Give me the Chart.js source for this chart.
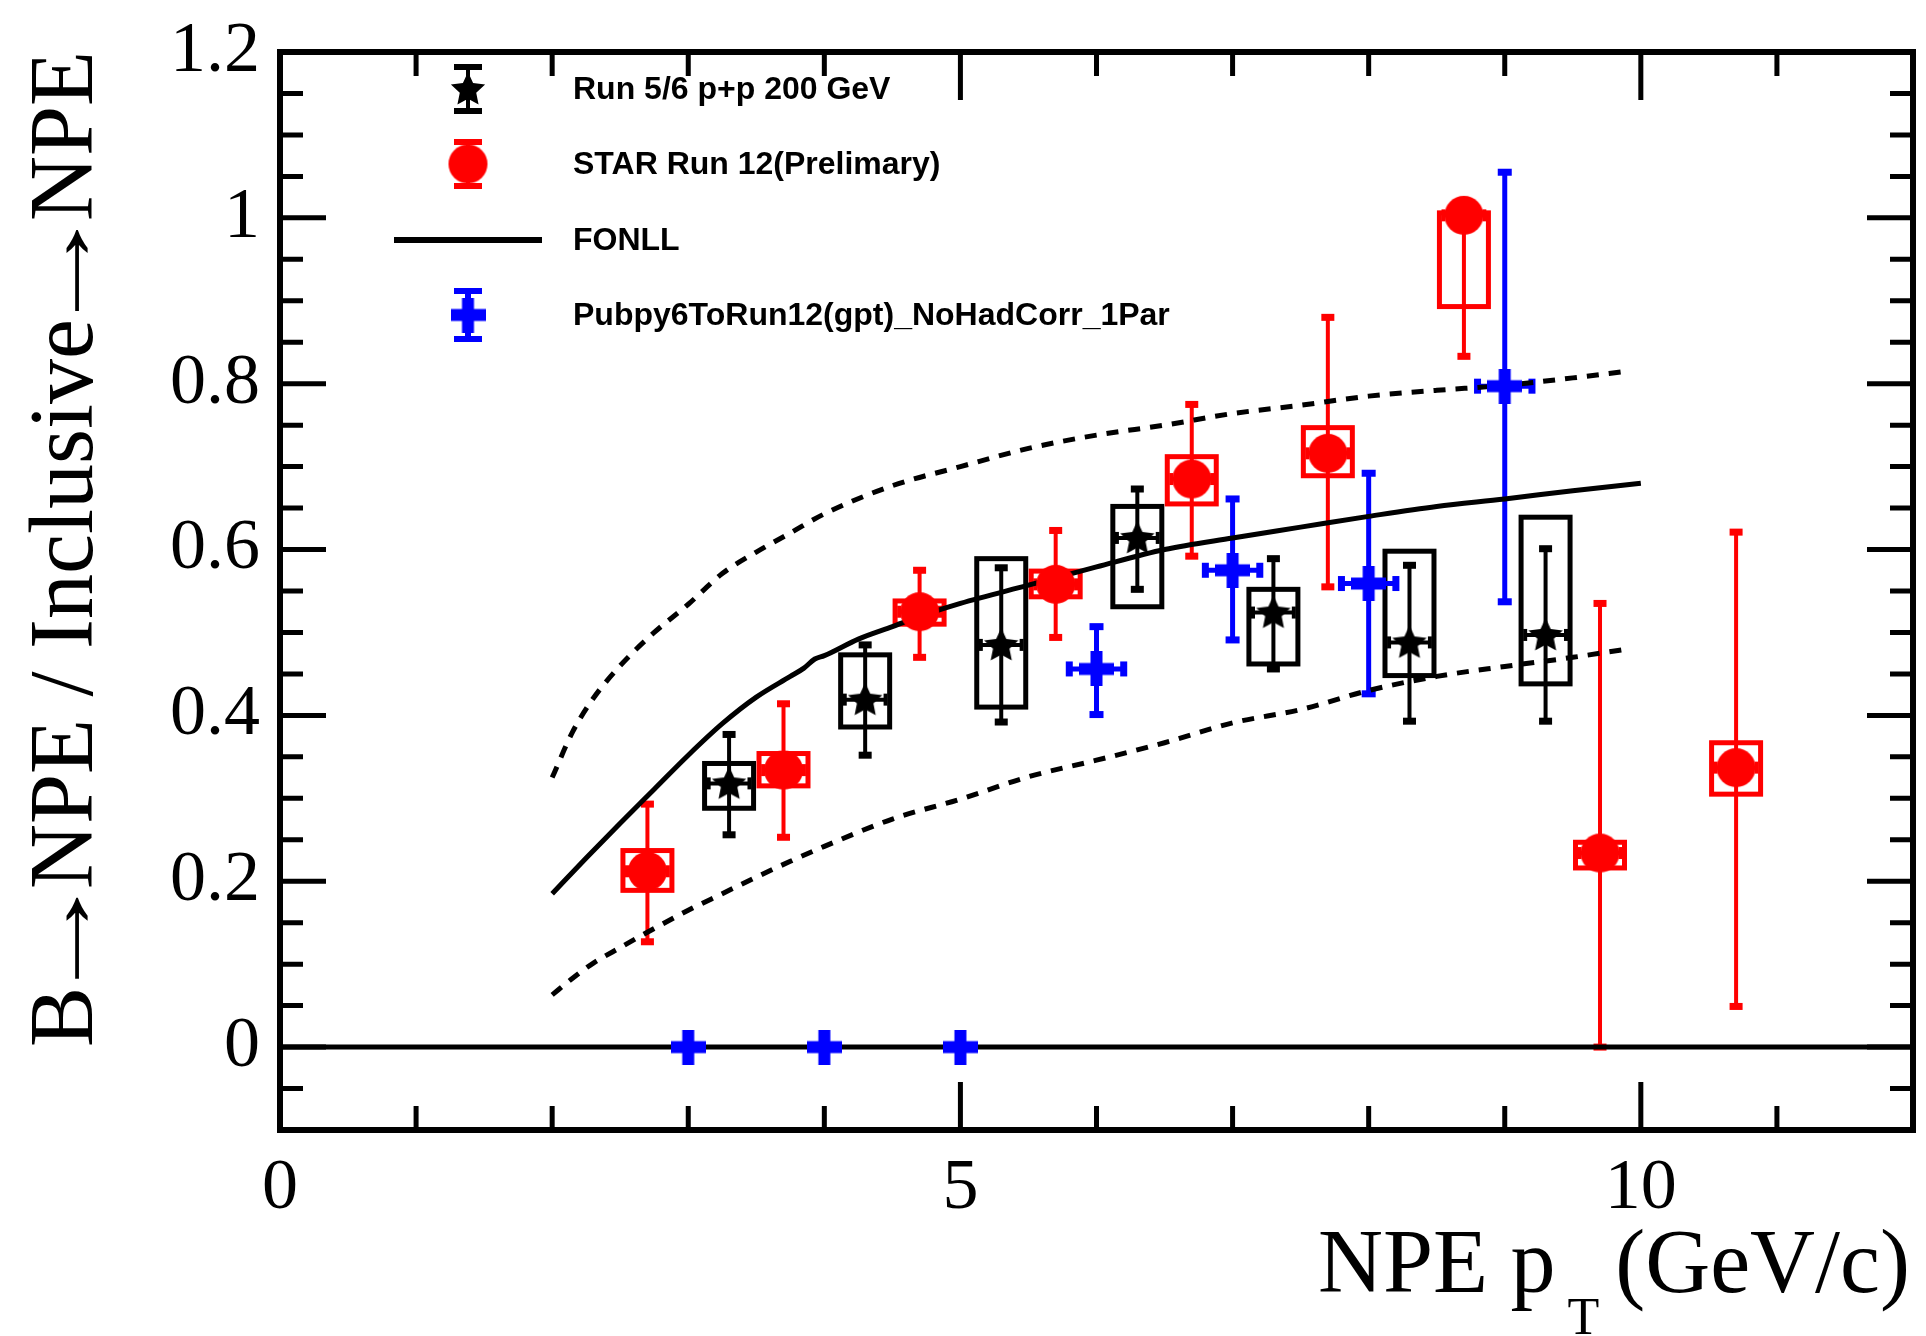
<!DOCTYPE html>
<html>
<head>
<meta charset="utf-8">
<script src="https://cdn.jsdelivr.net/npm/chart.js@4.4.1/dist/chart.umd.min.js"></script>
<style>
  html, body { margin: 0; padding: 0; background: #fff; }
</style>
</head>
<body>
<canvas id="chart" width="1926" height="1336"></canvas>
<script>
// ---- data ----
// Run 5/6 p+p 200 GeV (black stars), stat errors and sys boxes
var run6X      = [3.3, 4.3, 5.3, 6.3, 7.3, 8.3, 9.3];
var run6Y      = [0.318, 0.419, 0.485, 0.614, 0.524, 0.488, 0.497];
var run6StatHi = [0.377, 0.485, 0.578, 0.673, 0.589, 0.581, 0.601];
var run6StatLo = [0.256, 0.352, 0.392, 0.552, 0.456, 0.393, 0.393];
var run6SysHi  = [0.342, 0.473, 0.589, 0.652, 0.552, 0.598, 0.639];
var run6SysLo  = [0.288, 0.386, 0.410, 0.531, 0.462, 0.448, 0.438];

// STAR Run 12 (red circles)
var run12X      = [2.7, 3.7, 4.7, 5.7, 6.7, 7.7, 8.7, 9.7, 10.7];
var run12Y      = [0.212, 0.334, 0.525, 0.558, 0.685, 0.716, 1.003, 0.234, 0.337];
var run12StatHi = [0.293, 0.414, 0.575, 0.623, 0.775, 0.880, 1.006, 0.535, 0.621];
var run12StatLo = [0.127, 0.253, 0.470, 0.494, 0.592, 0.555, 0.833, 0.000, 0.049];
var run12SysHi  = [0.237, 0.354, 0.538, 0.574, 0.712, 0.747, 1.006, 0.247, 0.367];
var run12SysLo  = [0.189, 0.315, 0.510, 0.543, 0.655, 0.689, 0.893, 0.216, 0.305];

// Pubpy6ToRun12 fit (blue crosses)
var pubX      = [3, 4, 5, 6, 7, 8, 9];
var pubY      = [0, 0, 0, 0.456, 0.575, 0.559, 0.797];
var pubStatHi = [0, 0, 0, 0.507, 0.661, 0.692, 1.055];
var pubStatLo = [0, 0, 0, 0.401, 0.491, 0.426, 0.537];
var pubXErr   = [0, 0, 0, 0.2, 0.2, 0.2, 0.2];

// FONLL central + band
var fonllX   = [2.0, 2.25, 2.5, 2.75, 3.0, 3.25, 3.5, 3.75, 3.85, 3.93, 4.0, 4.25, 4.5, 4.75, 5.0, 5.5, 6.0, 6.5, 7.0, 7.5, 8.0, 8.5, 9.0, 9.5, 10.0];
var fonllMid = [0.185, 0.228, 0.270, 0.311, 0.352, 0.390, 0.422, 0.447, 0.457, 0.468, 0.472, 0.492, 0.507, 0.522, 0.535, 0.557, 0.579, 0.600, 0.614, 0.627, 0.640, 0.652, 0.661, 0.671, 0.680];
var bandX    = [2.0, 2.15, 2.3, 2.5, 2.75, 3.0, 3.25, 3.5, 3.75, 4.0, 4.5, 5.0, 5.5, 6.0, 6.5, 7.0, 7.5, 8.0, 8.5, 9.0, 9.5, 9.9];
var bandHi   = [0.325, 0.380, 0.420, 0.460, 0.500, 0.534, 0.571, 0.597, 0.620, 0.643, 0.677, 0.700, 0.722, 0.738, 0.750, 0.764, 0.774, 0.785, 0.792, 0.798, 0.807, 0.815];
var bandLo   = [0.063, 0.083, 0.101, 0.120, 0.143, 0.165, 0.185, 0.205, 0.224, 0.242, 0.275, 0.299, 0.326, 0.346, 0.367, 0.391, 0.407, 0.430, 0.447, 0.459, 0.470, 0.480];

var xTickLabels = [0, 5, 10];
var yTickLabels = [0, 0.2, 0.4, 0.6, 0.8, 1, 1.2];

var legendNames = ['Run 5/6 p+p 200 GeV', 'STAR Run 12(Prelimary)', 'FONLL', 'Pubpy6ToRun12(gpt)_NoHadCorr_1Par'];

// ---- marker images ----
function makeStar(R, color) {
  var c = document.createElement('canvas');
  c.width = c.height = Math.ceil(2 * R + 2);
  var g = c.getContext('2d'), cx = c.width / 2, cy = c.height / 2 + 1;
  g.beginPath();
  for (var i = 0; i < 10; i++) {
    var r = i % 2 ? R * 0.48 : R;
    var a = -Math.PI / 2 + i * Math.PI / 5;
    g.lineTo(cx + r * Math.cos(a), cy + r * Math.sin(a));
  }
  g.closePath();
  g.fillStyle = color;
  g.fill();
  return c;
}
function makeCircle(r, color) {
  var c = document.createElement('canvas');
  c.width = c.height = Math.ceil(2 * r + 2);
  var g = c.getContext('2d');
  g.beginPath();
  g.arc(c.width / 2, c.height / 2, r, 0, Math.PI * 2);
  g.fillStyle = color;
  g.fill();
  return c;
}
function makeCross(s, t, color) {
  var c = document.createElement('canvas');
  c.width = c.height = s;
  var g = c.getContext('2d');
  g.fillStyle = color;
  g.fillRect(0, (s - t) / 2, s, t);
  g.fillRect((s - t) / 2, 0, t, s);
  return c;
}
var starImg = makeStar(18, '#000');
var circleImg = makeCircle(19.5, '#ff0000');
var crossImg = makeCross(35, 12, '#0000ff');

function pts(xs, ys) {
  return xs.map(function (x, i) { return { x: x, y: ys[i] }; });
}

// ---- error bars and sys boxes ----
function vErr(ctx, xs, ys, x, lo, hi, color, lw, capW, capH) {
  if (hi === lo) return;
  var px = xs.getPixelForValue(x);
  var pl = ys.getPixelForValue(lo), ph = ys.getPixelForValue(hi);
  ctx.strokeStyle = color; ctx.fillStyle = color; ctx.lineWidth = lw;
  ctx.beginPath(); ctx.moveTo(px, pl); ctx.lineTo(px, ph); ctx.stroke();
  ctx.fillRect(px - capW / 2, pl - capH / 2, capW, capH);
  ctx.fillRect(px - capW / 2, ph - capH / 2, capW, capH);
}
function hErr(ctx, xs, ys, x, y, dx, color, lw, capW, capH) {
  if (!dx) return;
  var pl = xs.getPixelForValue(x - dx), ph = xs.getPixelForValue(x + dx);
  var py = ys.getPixelForValue(y);
  ctx.strokeStyle = color; ctx.fillStyle = color; ctx.lineWidth = lw;
  ctx.beginPath(); ctx.moveTo(pl, py); ctx.lineTo(ph, py); ctx.stroke();
  ctx.fillRect(pl - capH / 2, py - capW / 2, capH, capW);
  ctx.fillRect(ph - capH / 2, py - capW / 2, capH, capW);
}
function sysBox(ctx, xs, ys, x, lo, hi, color) {
  var l = xs.getPixelForValue(x - 0.18), r = xs.getPixelForValue(x + 0.18);
  var t = ys.getPixelForValue(hi), b = ys.getPixelForValue(lo);
  ctx.strokeStyle = color; ctx.lineWidth = 5;
  ctx.strokeRect(l, t, r - l, b - t);
}

var errorPlugin = {
  id: 'errors',
  beforeDatasetsDraw: function (chart) {
    var ctx = chart.ctx, xs = chart.scales.x, ys = chart.scales.y, a = chart.chartArea;
    ctx.save();
    ctx.beginPath(); ctx.rect(a.left, a.top, a.right - a.left, a.bottom - a.top); ctx.clip();
    run6X.forEach(function (x, i) {
      sysBox(ctx, xs, ys, x, run6SysLo[i], run6SysHi[i], '#000');
      vErr(ctx, xs, ys, x, run6StatLo[i], run6StatHi[i], '#000', 4, 13, 7);
      hErr(ctx, xs, ys, x, run6Y[i], 0.15, '#000', 4, 12, 4);
    });
    run12X.forEach(function (x, i) {
      sysBox(ctx, xs, ys, x, run12SysLo[i], run12SysHi[i], '#ff0000');
      vErr(ctx, xs, ys, x, run12StatLo[i], run12StatHi[i], '#ff0000', 4, 13, 7);
      hErr(ctx, xs, ys, x, run12Y[i], 0.15, '#ff0000', 4, 12, 4);
    });
    pubX.forEach(function (x, i) {
      vErr(ctx, xs, ys, x, pubStatLo[i], pubStatHi[i], '#0000ff', 5, 14, 7);
      hErr(ctx, xs, ys, x, pubY[i], pubXErr[i], '#0000ff', 5, 15, 7);
    });
    ctx.restore();
  }
};

// draws text pieces along the current x direction; arrows are stretched to a fixed length
function drawTitleRun(ctx, pieces, arrowLen, gap) {
  var x = 0;
  pieces.forEach(function (p) {
    if (p === '\u2192') {
      var m = ctx.measureText(p);
      var vis = m.actualBoundingBoxLeft + m.actualBoundingBoxRight;
      var sx = arrowLen / vis;
      ctx.save();
      ctx.translate(x + gap, 0);
      ctx.scale(sx, 1);
      ctx.fillText(p, m.actualBoundingBoxLeft, 0);
      ctx.restore();
      x += gap + arrowLen + gap;
    } else {
      ctx.fillText(p, x, 0);
      x += ctx.measureText(p).width;
    }
  });
}

// ---- frame, inner ticks, titles, legend ----
var framePlugin = {
  id: 'frame',
  afterDraw: function (chart) {
    var ctx = chart.ctx, xs = chart.scales.x, ys = chart.scales.y, a = chart.chartArea;
    ctx.save();
    ctx.strokeStyle = '#000';
    ctx.lineWidth = 6;
    ctx.strokeRect(a.left, a.top, a.right - a.left, a.bottom - a.top);
    ctx.lineWidth = 5;
    ctx.beginPath();
    for (var k = 0; k <= 12; k++) {
      var px = xs.getPixelForValue(k), len = k % 5 === 0 ? 48 : 24;
      ctx.moveTo(px, a.bottom); ctx.lineTo(px, a.bottom - len);
      ctx.moveTo(px, a.top); ctx.lineTo(px, a.top + len);
    }
    for (var j = -2; j <= 24; j++) {
      var py = ys.getPixelForValue(j * 0.05), ln = j % 4 === 0 ? 46 : 23;
      ctx.moveTo(a.left, py); ctx.lineTo(a.left + ln, py);
      ctx.moveTo(a.right, py); ctx.lineTo(a.right - ln, py);
    }
    ctx.stroke();

    // axis titles
    ctx.fillStyle = '#000';
    ctx.font = '90px "Liberation Serif"';
    ctx.textBaseline = 'alphabetic';
    ctx.textAlign = 'left';
    ctx.save();
    ctx.translate(92, 1047);
    ctx.rotate(-Math.PI / 2);
    drawTitleRun(ctx, ['B', '\u2192', 'NPE / Inclusive', '\u2192', 'NPE'], 82, 8);
    ctx.restore();

    var t1 = 'NPE p', t2 = 'T', t3 = '(GeV/c)';
    ctx.font = '90px "Liberation Serif"';
    var w1 = ctx.measureText(t1).width, w3 = ctx.measureText(t3).width;
    ctx.font = '52px "Liberation Serif"';
    var w2 = ctx.measureText(t2).width;
    var x0 = a.right - 3 - (w1 + 12 + w2 + 16 + w3);
    ctx.font = '90px "Liberation Serif"';
    ctx.fillText(t1, x0, 1292);
    ctx.fillText(t3, x0 + w1 + 12 + w2 + 16, 1292);
    ctx.font = '52px "Liberation Serif"';
    ctx.fillText(t2, x0 + w1 + 12, 1334);

    // legend
    var lx = 468, tx = 573;
    var rows = [89, 164, 240, 315];
    ctx.fillStyle = '#000';
    ctx.fillRect(lx - 14, rows[0] - 25, 28, 6);
    ctx.fillRect(lx - 14, rows[0] + 19, 28, 6);
    ctx.fillRect(lx - 2, rows[0] - 22, 4, 44);
    ctx.drawImage(starImg, lx - starImg.width / 2, rows[0] - starImg.height / 2);

    ctx.fillStyle = '#ff0000';
    ctx.fillRect(lx - 14, rows[1] - 25, 28, 6);
    ctx.fillRect(lx - 14, rows[1] + 19, 28, 6);
    ctx.fillRect(lx - 2, rows[1] - 22, 4, 44);
    ctx.drawImage(circleImg, lx - circleImg.width / 2, rows[1] - circleImg.height / 2);

    ctx.strokeStyle = '#000';
    ctx.lineWidth = 6;
    ctx.beginPath(); ctx.moveTo(394, rows[2]); ctx.lineTo(542, rows[2]); ctx.stroke();

    ctx.fillStyle = '#0000ff';
    ctx.fillRect(lx - 14, rows[3] - 27, 28, 6);
    ctx.fillRect(lx - 14, rows[3] + 21, 28, 6);
    ctx.fillRect(lx - 3, rows[3] - 24, 6, 48);
    ctx.drawImage(crossImg, lx - crossImg.width / 2, rows[3] - crossImg.height / 2);

    ctx.fillStyle = '#000';
    ctx.font = 'bold 32px "Liberation Sans"';
    ctx.textBaseline = 'middle';
    ctx.textAlign = 'left';
    legendNames.forEach(function (n, i) { ctx.fillText(n, tx, rows[i] + 1); });
    ctx.restore();
  }
};

var tickFont = { family: 'Liberation Serif', size: 72 };

new Chart(document.getElementById('chart'), {
  type: 'scatter',
  data: {
    datasets: [
      { label: 'zero', data: [{ x: 0, y: 0 }, { x: 12, y: 0 }], showLine: true, borderColor: '#000', borderWidth: 5, pointRadius: 0, order: 10 },
      { label: 'FONLL', data: pts(fonllX, fonllMid), showLine: true, borderColor: '#000', borderWidth: 5, pointRadius: 0, cubicInterpolationMode: 'monotone', order: 8 },
      { label: 'FONLL up', data: pts(bandX, bandHi), showLine: true, borderColor: '#000', borderWidth: 5, borderDash: [12, 10], pointRadius: 0, cubicInterpolationMode: 'monotone', order: 8 },
      { label: 'FONLL down', data: pts(bandX, bandLo), showLine: true, borderColor: '#000', borderWidth: 5, borderDash: [12, 10], pointRadius: 0, cubicInterpolationMode: 'monotone', order: 8 },
      { label: legendNames[3], data: pts(pubX, pubY), pointStyle: crossImg, pointRadius: 10, order: 3 },
      { label: legendNames[0], data: pts(run6X, run6Y), pointStyle: starImg, pointRadius: 10, order: 2 },
      { label: legendNames[1], data: pts(run12X, run12Y), pointStyle: circleImg, pointRadius: 10, order: 1 }
    ]
  },
  options: {
    responsive: false,
    animation: false,
    devicePixelRatio: 1,
    layout: { padding: { left: 0, right: 13, top: 52, bottom: 0 } },
    plugins: { legend: { display: false }, tooltip: { enabled: false } },
    scales: {
      x: {
        type: 'linear', min: 0, max: 12,
        grid: { display: false, drawTicks: false },
        border: { display: false },
        afterBuildTicks: function (s) { s.ticks = xTickLabels.map(function (v) { return { value: v }; }); },
        afterFit: function (s) { s.height = 206; s.paddingLeft = 0; s.paddingRight = 0; },
        ticks: { color: '#000', font: tickFont, padding: 16, maxRotation: 0, autoSkip: false,
                 callback: function (v) { return String(v); } }
      },
      y: {
        type: 'linear', min: -0.1, max: 1.2,
        grid: { display: false, drawTicks: false },
        border: { display: false },
        afterBuildTicks: function (s) { s.ticks = yTickLabels.map(function (v) { return { value: v }; }); },
        afterFit: function (s) { s.width = 280; s.paddingTop = 0; s.paddingBottom = 0; },
        ticks: { color: '#000', font: tickFont, padding: 20, autoSkip: false,
                 callback: function (v) { return String(v); } }
      }
    }
  },
  plugins: [errorPlugin, framePlugin]
});
</script>
</body>
</html>
